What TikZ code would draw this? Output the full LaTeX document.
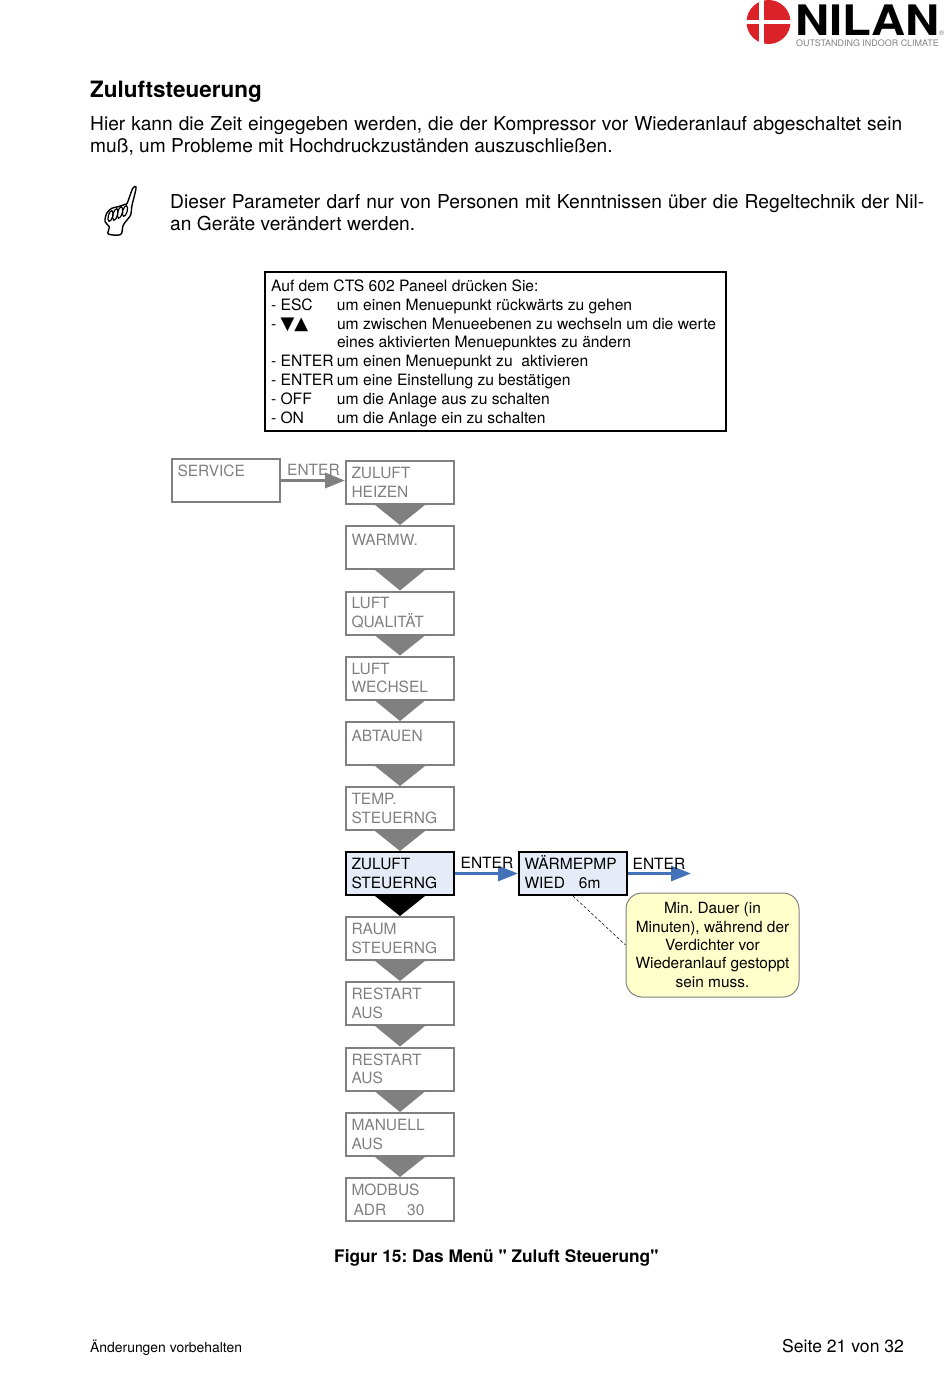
\documentclass[tikz,border=0pt]{standalone}
\usepackage{fontspec}
\setmainfont{TeX Gyre Heros}
\newfontfamily\symfont{DejaVu Sans}
\newfontfamily\quotefont{TeX Gyre Heros}
\usetikzlibrary{arrows.meta}
\definecolor{menugray}{HTML}{808080}
\definecolor{menublue}{HTML}{4472B8}
\definecolor{menufill}{HTML}{E6ECF7}
\definecolor{notefill}{HTML}{FFFFCC}
\definecolor{nilanred}{HTML}{DC2229}
\newcommand{\sz}[2]{\fontsize{#1}{#2}\selectfont}
\newcommand{\lowline}[1]{\smash{\raisebox{-2pt}{#1}}\vphantom{W}}
\begin{document}
\frenchspacing
\begin{tikzpicture}[
x=1pt,y=-1pt,
menubox/.style={
draw=menugray,
line width=2pt,
text=menugray,
align=left,
font=\sz{15.5}{18.6},
inner sep=0pt,
text width=97pt,
minimum width=108pt,
minimum height=43pt
},
activebox/.style={
menubox,
draw=black,
text=black,
fill=menufill
},
grayarrow/.style={-{Triangle[length=20pt,width=15pt]}, line width=3.4pt, draw=menugray},
bluearrow/.style={-{Triangle[length=20pt,width=15pt]}, line width=3pt, draw=menublue},
menutri/.style={fill=menugray},
enterlabel/.style={font=\sz{15.5}{18.6}, inner sep=0pt, anchor=base west},
plain/.style={inner sep=0pt, anchor=base west, align=left}
]
\useasboundingbox (0,0) rectangle (950,1379);
% logo
\node[circle, fill=nilanred, minimum size=44pt, inner sep=0pt] (logoDisc) at (768.5,22) {};
\fill[white] (758.5,0) rectangle (763.5,44);
\fill[white] (746,19.5) rectangle (791,24);
\node[plain, font=\bfseries\sz{42}{42}, xscale=1.125, transform shape] (logoName) at (795,35) {NILAN};
\node[plain, font=\sz{7}{7}, text=menugray] (logoMark) at (939,35) {®};
\node[plain, font=\sz{8.95}{10}, text=menugray] (logoClaim) at (796,46) {OUTSTANDING INDOOR CLIMATE};
% text
\node[plain, font=\bfseries\sz{22.5}{26}] (title) at (90,97) {Zuluftsteuerung};
\node[inner sep=0pt, anchor=north west, align=left, font=\sz{19.15}{22}] (intro) at (90,116)
{\makebox[812pt][s]{Hier kann die Zeit eingegeben werden, die der Kompressor vor Wiederanlauf abgeschaltet sein}\\
muß, um Probleme mit Hochdruckzuständen auszuschließen.};
\node[inner sep=0pt, anchor=north west, align=left, font=\sz{19.2}{22.6}] (warning) at (170,194)
{\makebox[754pt][s]{Dieser Parameter darf nur von Personen mit Kenntnissen über die Regeltechnik der Nil-}\\
an Geräte verändert werden.};
% hand
\draw[line width=1.4pt, fill=white, line join=round] plot[smooth cycle, tension=0.5] coordinates {
(108.3,234) (109.3,226.7) (105,221.7) (106.7,213.3) (111.7,208.3) (118.3,206.7) (125,204.3)
(127.3,203) (132.7,188.3) (136,186.7) (135.3,192) (131.7,206.7) (130.7,215) (123.3,225) (120.7,234.5)};
\draw[line width=1.2pt] (110.5,216) ellipse[x radius=2.2, y radius=5.5, rotate=-15];
\draw[line width=1.2pt] (115.3,214.5) ellipse[x radius=2.2, y radius=6, rotate=-15];
\draw[line width=1.2pt] (120,212.5) ellipse[x radius=2.2, y radius=6, rotate=-15];
\draw[line width=1.2pt] (125,211) ellipse[x radius=2.2, y radius=5.5, rotate=-15];
% keys
\node[draw, line width=1.8pt, inner sep=0pt, minimum width=461pt, minimum height=159pt, font=\sz{15.65}{18.85}] (keys) at (495.5,351.5) {%
\raisebox{-2pt}[\height][\depth]{\makebox[450pt][l]{\hspace{0.5pt}%
\begin{tabular}{@{}p{66pt}@{}l@{}}
\multicolumn{2}{@{}l@{}}{Auf dem CTS 602 Paneel drücken Sie:}\\
- ESC & um einen Menuepunkt rückwärts zu gehen\\
- {\symfont\sz{18}{18.85}▼▲} & um zwischen Menueebenen zu wechseln um die werte\\
 & eines aktivierten Menuepunktes zu ändern\\
- ENTER & um einen Menuepunkt zu\ \ aktivieren\\
- ENTER & um eine Einstellung zu bestätigen\\
- OFF & um die Anlage aus zu schalten\\
- ON & um die Anlage ein zu schalten
\end{tabular}}}};
% menu
\node[menubox] (service) at (226,480.5) {SERVICE\\~};
\node[menubox] (zuluftHeizen) at (400,482.5) {ZULUFT\\HEIZEN};
\node[menubox] (warmw) at (400,547.5) {\lowline{WARMW.}\\~};
\node[menubox] (luftQualitaet) at (400,613) {LUFT\\QUALITÄT};
\node[menubox] (luftWechsel) at (400,678) {LUFT\\WECHSEL};
\node[menubox] (abtauen) at (400,743.5) {\lowline{ABTAUEN}\\~};
\node[menubox] (tempSteuerng) at (400,808.5) {TEMP.\\STEUERNG};
\node[activebox] (zuluftSteuerng) at (400,873.5) {ZULUFT\\STEUERNG};
\node[menubox] (raumSteuerng) at (400,938.5) {RAUM\\STEUERNG};
\node[menubox] (restartA) at (400,1003.5) {RESTART\\AUS};
\node[menubox] (restartB) at (400,1069) {RESTART\\AUS};
\node[menubox] (manuell) at (400,1134.5) {MANUELL\\AUS};
\node[menubox] (modbus) at (400,1199.5) {MODBUS\\[1.5pt]\hspace*{2pt}ADR\hspace{21pt}30};
\node[activebox] (waermepmp) at (573,873.5) {\smash{WÄRMEPMP}\vphantom{W}\\WIED\hspace{14pt}6m};
\node[draw=menugray, fill=notefill, rounded corners=16pt, line width=1pt, align=center, inner sep=0pt,
minimum width=173pt, minimum height=104pt, font=\sz{15.4}{18.3}] (note) at (712.5,945)
{Min. Dauer (in\\Minuten), während der\\Verdichter vor\\Wiederanlauf gestoppt\\sein muss.};
\coordinate (enterEnd) at (691,873.5);
% connectors
\draw[grayarrow] (service.east) -- (service.east -| zuluftHeizen.west);
\draw[bluearrow] (zuluftSteuerng.east) -- (waermepmp.west);
\draw[bluearrow] (waermepmp.east) -- (enterEnd);
\draw[densely dashed, line width=0.5pt] (waermepmp.south) -- (note.west);
\node[enterlabel, text=menugray] (enterService) at (287,475) {ENTER};
\node[enterlabel] (enterZuluft) at (460.5,868) {ENTER};
\node[enterlabel] (enterWaerme) at (632.5,869.5) {ENTER};
\fill[menutri] ([xshift=-25pt]zuluftHeizen.south) -- ([xshift=25pt]zuluftHeizen.south) -- (warmw.north) -- cycle;
\fill[menutri] ([xshift=-25pt]warmw.south) -- ([xshift=25pt]warmw.south) -- (luftQualitaet.north) -- cycle;
\fill[menutri] ([xshift=-25pt]luftQualitaet.south) -- ([xshift=25pt]luftQualitaet.south) -- (luftWechsel.north) -- cycle;
\fill[menutri] ([xshift=-25pt]luftWechsel.south) -- ([xshift=25pt]luftWechsel.south) -- (abtauen.north) -- cycle;
\fill[menutri] ([xshift=-25pt]abtauen.south) -- ([xshift=25pt]abtauen.south) -- (tempSteuerng.north) -- cycle;
\fill[menutri] ([xshift=-25pt]tempSteuerng.south) -- ([xshift=25pt]tempSteuerng.south) -- (zuluftSteuerng.north) -- cycle;
\fill[black] ([xshift=-25pt]zuluftSteuerng.south) -- ([xshift=25pt]zuluftSteuerng.south) -- (raumSteuerng.north) -- cycle;
\fill[menutri] ([xshift=-25pt]raumSteuerng.south) -- ([xshift=25pt]raumSteuerng.south) -- (restartA.north) -- cycle;
\fill[menutri] ([xshift=-25pt]restartA.south) -- ([xshift=25pt]restartA.south) -- (restartB.north) -- cycle;
\fill[menutri] ([xshift=-25pt]restartB.south) -- ([xshift=25pt]restartB.south) -- (manuell.north) -- cycle;
\fill[menutri] ([xshift=-25pt]manuell.south) -- ([xshift=25pt]manuell.south) -- (modbus.north) -- cycle;
% caption and footer
\node[plain, font=\bfseries\sz{17.3}{20}] (caption) at (334,1262) {Figur 15: Das Menü {\quotefont"} Zuluft Steuerung{\quotefont"}};
\node[plain, font=\sz{13.9}{16}] (footerLeft) at (90,1352) {Änderungen vorbehalten};
\node[plain, font=\sz{17.6}{20}] (footerRight) at (782,1352) {Seite 21 von 32};
\end{tikzpicture}
\end{document}
